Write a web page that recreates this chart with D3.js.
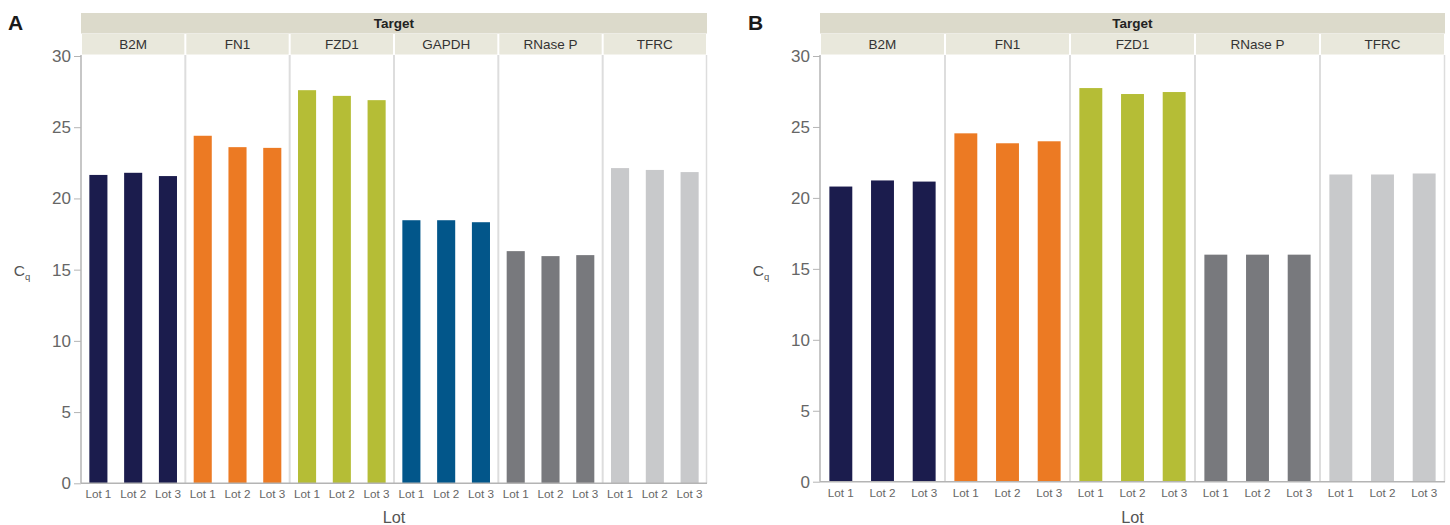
<!DOCTYPE html>
<html>
<head>
<meta charset="utf-8">
<script src="https://cdn.jsdelivr.net/npm/d3@7"></script>
<style>
  body { margin: 0; background: #fff; }
  text { font-family: "Liberation Sans", Arial, sans-serif; }
  .tick text { fill: #666; }
</style>
</head>
<body>
<svg id="chart"></svg>
<script>
// ─── Data ─────────────────────────────────────────────────────────────────────
const lots = ["Lot 1", "Lot 2", "Lot 3"];
const yTicks = [0, 5, 10, 15, 20, 25, 30];

const targetsA = ["B2M", "FN1", "FZD1", "GAPDH", "RNase P", "TFRC"];
const cqA = [
  [21.65, 21.8, 21.57],   // B2M
  [24.4, 23.6, 23.55],    // FN1
  [27.6, 27.2, 26.9],     // FZD1
  [18.47, 18.47, 18.33],  // GAPDH
  [16.3, 15.95, 16.02],   // RNase P
  [22.13, 22.0, 21.85]    // TFRC
];

const targetsB = ["B2M", "FN1", "FZD1", "RNase P", "TFRC"];
const cqB = [
  [20.8, 21.23, 21.15],   // B2M
  [24.55, 23.85, 23.99],  // FN1
  [27.74, 27.32, 27.46],  // FZD1
  [16.0, 16.0, 16.0],     // RNase P
  [21.65, 21.65, 21.72]   // TFRC
];

const targetColors = {
  "B2M": "#1b1c4d",
  "FN1": "#ec7a23",
  "FZD1": "#b5bd36",
  "GAPDH": "#02568a",
  "RNase P": "#78797d",
  "TFRC": "#c8c9cb"
};

// ─── Layout ───────────────────────────────────────────────────────────────────
const W = 1450, H = 525;
const svg = d3.select("#chart").attr("width", W).attr("height", H);

const panels = [
  { letter: "A", letterX: 8, targets: targetsA, values: cqA,
    left: 81, right: 707, bottom: 483.3, barPad: 0.48, cqX: 22 },
  { letter: "B", letterX: 748, targets: targetsB, values: cqB,
    left: 820, right: 1445, bottom: 481.7, barPad: 0.45, cqX: 761 }
];

const headTop = 13, headMid = 33.5, subBottom = 55, yTop = 56;

function drawPanel(p) {
  const g = svg.append("g");

  const x = d3.scaleBand().domain(p.targets).range([p.left, p.right]);
  const xLot = d3.scaleBand().domain(lots).range([0, x.bandwidth()])
    .paddingInner(p.barPad).paddingOuter(p.barPad / 2);
  const y = d3.scaleLinear().domain([0, 30]).range([p.bottom, yTop]);

  // panel letter
  g.append("text")
    .attr("x", p.letterX).attr("y", 30)
    .attr("font-size", 21).attr("font-weight", "bold").attr("fill", "#1a1a1a")
    .text(p.letter);

  // "Target" header band
  g.append("rect")
    .attr("x", p.left).attr("y", headTop)
    .attr("width", p.right - p.left).attr("height", headMid - headTop)
    .attr("fill", "#dcdacb");
  g.append("text")
    .attr("x", (p.left + p.right) / 2).attr("y", headMid - 5.5)
    .attr("text-anchor", "middle").attr("font-size", 13.5).attr("font-weight", "bold")
    .attr("fill", "#222").text("Target");

  // facet sub-headers
  const facets = g.selectAll("g.facet")
    .data(p.targets.map((t, i) => ({ target: t, values: p.values[i] })))
    .join("g").attr("class", "facet")
    .attr("transform", d => `translate(${x(d.target)},0)`);

  facets.append("rect")
    .attr("x", 1).attr("y", headMid + 0.5)
    .attr("width", x.bandwidth() - 2).attr("height", subBottom - headMid - 1)
    .attr("fill", "#e9e8dc");
  facets.append("text")
    .attr("x", x.bandwidth() / 2).attr("y", subBottom - 6.5)
    .attr("text-anchor", "middle").attr("font-size", 13.5).attr("fill", "#333")
    .text(d => d.target);

  // facet separators
  g.selectAll("line.sep")
    .data(p.targets.slice(1))
    .join("line").attr("class", "sep")
    .attr("x1", d => x(d)).attr("x2", d => x(d))
    .attr("y1", subBottom).attr("y2", p.bottom)
    .attr("stroke", "#dddddd").attr("stroke-width", 2);
  g.append("line")
    .attr("x1", p.right - 0.5).attr("x2", p.right - 0.5)
    .attr("y1", subBottom).attr("y2", p.bottom)
    .attr("stroke", "#dddddd").attr("stroke-width", 1.5);

  // bars
  facets.selectAll("rect.bar")
    .data(d => d.values.map((v, i) => ({ lot: lots[i], value: v, target: d.target })))
    .join("rect").attr("class", "bar")
    .attr("x", d => xLot(d.lot))
    .attr("y", d => y(d.value))
    .attr("width", xLot.bandwidth())
    .attr("height", d => y(0) - y(d.value))
    .attr("fill", d => targetColors[d.target]);

  // lot tick labels
  facets.selectAll("text.lot")
    .data(lots)
    .join("text").attr("class", "lot")
    .attr("x", d => xLot(d) + xLot.bandwidth() / 2)
    .attr("y", p.bottom + 15)
    .attr("text-anchor", "middle").attr("font-size", 11.7).attr("fill", "#666")
    .text(d => d);

  // y axis
  const yAxis = g.append("g")
    .attr("transform", `translate(${p.left},0)`)
    .call(d3.axisLeft(y).tickValues(yTicks).tickSize(7).tickPadding(3));
  yAxis.select(".domain").attr("stroke", "#b4b4b4").attr("stroke-width", 1.5)
    .attr("d", `M0,${subBottom}V${p.bottom}`);
  yAxis.selectAll(".tick line").attr("stroke", "#b4b4b4");
  yAxis.selectAll(".tick text").attr("font-size", 17).attr("fill", "#666");

  // bottom axis line
  g.append("line")
    .attr("x1", p.left).attr("x2", p.right)
    .attr("y1", p.bottom).attr("y2", p.bottom)
    .attr("stroke", "#b4b4b4").attr("stroke-width", 1.5);

  // axis titles
  const cq = g.append("text")
    .attr("x", p.cqX).attr("y", 276)
    .attr("text-anchor", "middle").attr("font-size", 15.5).attr("fill", "#555");
  cq.append("tspan").text("C");
  cq.append("tspan").attr("font-size", 9.5).attr("dy", 4).text("q");

  g.append("text")
    .attr("x", (p.left + p.right) / 2).attr("y", 523)
    .attr("text-anchor", "middle").attr("font-size", 16.3).attr("fill", "#555")
    .text("Lot");
}

panels.forEach(drawPanel);
</script>
</body>
</html>
